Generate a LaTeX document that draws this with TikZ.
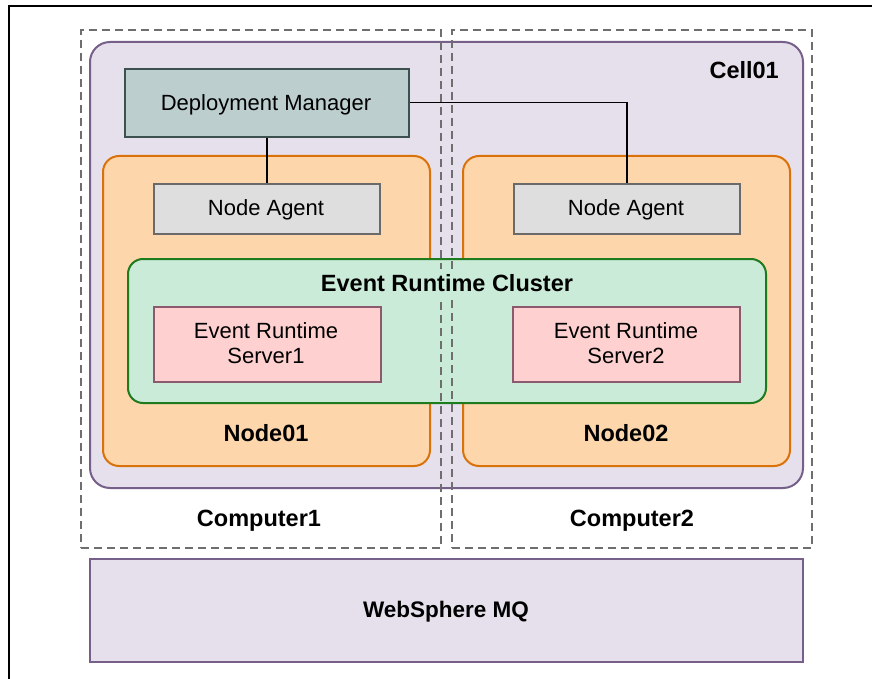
\documentclass[tikz,border=0pt]{standalone}
\usepackage{fontspec}
\setmainfont{Liberation Sans}
\definecolor{cellfill}{HTML}{E6E0EC}
\definecolor{cellline}{HTML}{76608A}
\definecolor{dmfill}{HTML}{BCCECE}
\definecolor{dmline}{HTML}{3C5050}
\definecolor{nodefill}{HTML}{FDD6AC}
\definecolor{nodeline}{HTML}{D9720B}
\definecolor{nafill}{HTML}{DEDEDE}
\definecolor{naline}{HTML}{6A6A6A}
\definecolor{clfill}{HTML}{CBEBD9}
\definecolor{clline}{HTML}{1E7B1E}
\definecolor{srvfill}{HTML}{FFD0D0}
\definecolor{srvline}{HTML}{8C5A6E}
\definecolor{dashc}{HTML}{6E6E6E}
\tikzset{
  box/.style={rectangle, anchor=north west, inner sep=0pt, line width=2pt},
  txt/.style={font=\fontsize{22}{25.6}\selectfont, align=center},
  txtone/.style={font=\fontsize{22}{25.6}\selectfont, inner sep=0pt, text height=15.8pt, text depth=0pt},
  lbl/.style={inner sep=0pt, text height=16.8pt, text depth=0pt, font=\fontsize{23.5}{28}\selectfont\bfseries},
  compbox/.style={draw=dashc, line width=2pt, dash pattern=on 8pt off 5pt},
  wire/.style={draw=black, line width=1.5pt}
}
\begin{document}
\begin{tikzpicture}[x=1pt,y=-1pt]
\useasboundingbox (0,0) rectangle (872,679);
\fill[white] (0,0) rectangle (872,679);
\draw[black, line width=1.5pt] (872,6) -- (9,6) -- (9,679);
% cell
\node[box, draw=cellline, fill=cellfill, rounded corners=20pt, minimum width=713pt, minimum height=446pt] (cell) at (89,41) {};
\node[lbl, anchor=east] (celllbl) at (779,70) {Cell01};
% nodes
\node[box, draw=nodeline, fill=nodefill, rounded corners=16pt, minimum width=327pt, minimum height=310pt] (node1) at (102,155) {};
\node[box, draw=nodeline, fill=nodefill, rounded corners=16pt, minimum width=327pt, minimum height=310pt] (node2) at (462,155) {};
\node[lbl] (node1lbl) at (266,433.5) {Node01};
\node[lbl] (node2lbl) at (626,433.5) {Node02};
% deployment manager
\node[box, draw=dmline, fill=dmfill, minimum width=284pt, minimum height=68pt] (dm) at (124,68) {};
\node[txtone] (dmt) at (266,102.5) {Deployment Manager};
% node agents
\node[box, draw=naline, fill=nafill, minimum width=226pt, minimum height=50pt] (na1) at (153,183) {};
\node[box, draw=naline, fill=nafill, minimum width=226pt, minimum height=50pt] (na2) at (513,183) {};
\node[txtone] (na1t) at (266,208) {Node Agent};
\node[txtone] (na2t) at (626,208) {Node Agent};
% connectors
\draw[wire] (dm.south -| na1.north) -- (na1.north);
\draw[wire] (dm.east |- dmt) -| (na2.north);
% cluster
\node[box, draw=clline, fill=clfill, rounded corners=15pt, minimum width=638pt, minimum height=144pt] (cl) at (127,258) {};
% computers
\node[box, compbox, minimum width=360pt, minimum height=518pt] (comp1) at (80,29) {};
\node[box, compbox, minimum width=360pt, minimum height=518pt] (comp2) at (451,29) {};
\node[lbl] (comp1lbl) at (259,518) {Computer1};
\node[lbl] (comp2lbl) at (632,518) {Computer2};
\node[lbl, fill=clfill, inner xsep=3pt, inner ysep=6pt] (cllbl) at (447,283) {Event Runtime Cluster};
% servers
\node[box, draw=srvline, fill=srvfill, minimum width=227pt, minimum height=75pt] (s1) at (153,306) {};
\node[box, draw=srvline, fill=srvfill, minimum width=227pt, minimum height=75pt] (s2) at (512,306) {};
\node[txt] (s1t) at (266,343) {Event Runtime\\Server1};
\node[txt] (s2t) at (626,343) {Event Runtime\\Server2};
% websphere mq
\node[box, draw=cellline, fill=cellfill, minimum width=713pt, minimum height=103pt] (mq) at (89,558) {};
\node[lbl, font=\fontsize{22.5}{27}\selectfont\bfseries] (mqt) at (446,609.5) {WebSphere MQ};
\end{tikzpicture}
\end{document}
